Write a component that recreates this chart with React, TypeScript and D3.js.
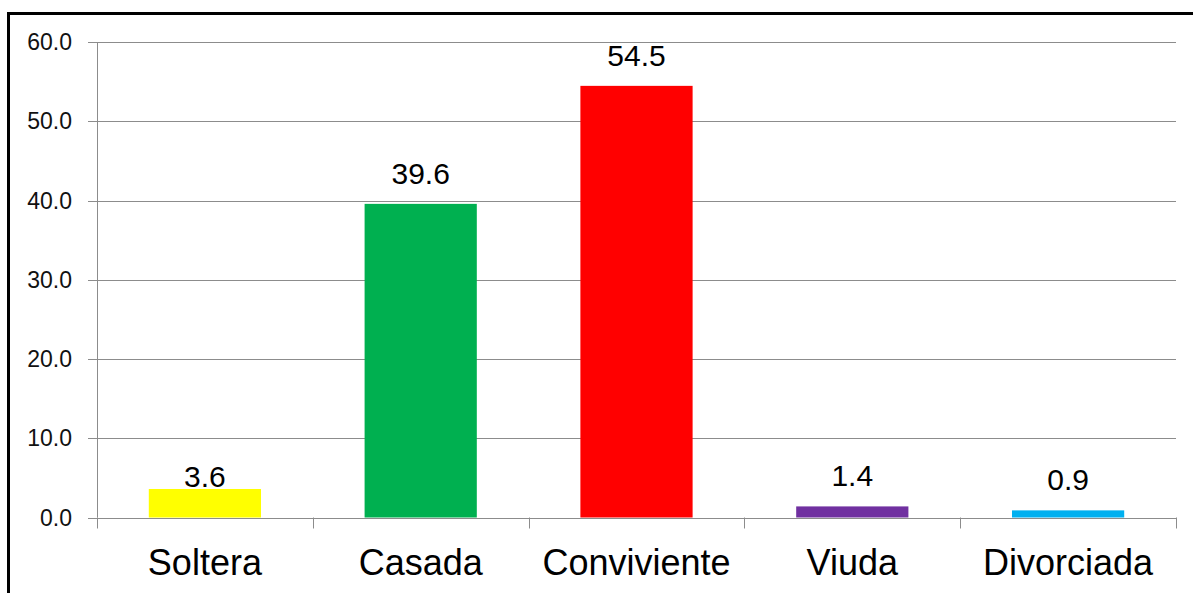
import React from "react";
import * as d3 from "d3";

// Estado civil (%)
const categories = ["Soltera", "Casada", "Conviviente", "Viuda", "Divorciada"];
const values = [3.6, 39.6, 54.5, 1.4, 0.9];
const barColors = ["#FFFF00", "#00B050", "#FF0000", "#7030A0", "#00B0F0"];
const yTicks = [0, 10, 20, 30, 40, 50, 60];

const W = 1193;
const H = 593;
const plot = { left: 97, right: 1176, top: 42.3, bottom: 517.5 };
const font = "'Liberation Sans', Arial, sans-serif";

export default function App() {
  const x = d3
    .scaleBand<string>()
    .domain(categories)
    .range([plot.left, plot.right])
    .paddingInner(0.48)
    .paddingOuter(0.24);
  const step = (plot.right - plot.left) / categories.length;
  const y = d3.scaleLinear().domain([0, 60]).range([plot.bottom, plot.top]);
  const fmt = d3.format(".1f");

  return (
    <svg
      width={W}
      height={H}
      style={{ position: "absolute", left: 0, top: 0, background: "#fff" }}
    >
      {/* frame */}
      <line x1={7} x2={W} y1={13.5} y2={13.5} stroke="#000" strokeWidth={3} />
      <line x1={8.5} x2={8.5} y1={12} y2={H} stroke="#000" strokeWidth={3} />

      {/* gridlines and y ticks */}
      {yTicks.map((t) => (
        <g key={t}>
          <line
            x1={plot.left - 9}
            x2={plot.right}
            y1={Math.round(y(t)) + 0.5}
            y2={Math.round(y(t)) + 0.5}
            stroke="#8c8c8c"
            strokeWidth={1}
          />
          <text
            x={72}
            y={Math.round(y(t)) + 8}
            textAnchor="end"
            fontFamily={font}
            fontSize={23}
            fill="#111"
          >
            {fmt(t)}
          </text>
        </g>
      ))}

      {/* y axis */}
      <line
        x1={plot.left + 0.5}
        x2={plot.left + 0.5}
        y1={Math.round(y(60))}
        y2={plot.bottom}
        stroke="#8c8c8c"
      />

      {/* category ticks */}
      {d3.range(categories.length + 1).map((i) => {
        const xx = Math.round(plot.left + i * step) + 0.5;
        return (
          <line
            key={i}
            x1={xx}
            x2={xx}
            y1={plot.bottom}
            y2={plot.bottom + 11}
            stroke="#8c8c8c"
          />
        );
      })}

      {/* bars */}
      {categories.map((c, i) => {
        const v = values[i];
        const top = y(v);
        const cx = (x(c) ?? 0) + x.bandwidth() / 2;
        const labelGap = i === 0 ? 2 : 20;
        return (
          <g key={c}>
            <rect
              x={x(c)}
              y={top}
              width={x.bandwidth()}
              height={y(0) - top}
              fill={barColors[i]}
            />
            <text
              x={cx}
              y={top - labelGap}
              textAnchor="middle"
              fontFamily={font}
              fontSize={30}
              fill="#000"
            >
              {fmt(v)}
            </text>
            <text
              x={cx}
              y={575}
              textAnchor="middle"
              fontFamily={font}
              fontSize={36}
              fill="#000"
            >
              {c}
            </text>
          </g>
        );
      })}
    </svg>
  );
}
